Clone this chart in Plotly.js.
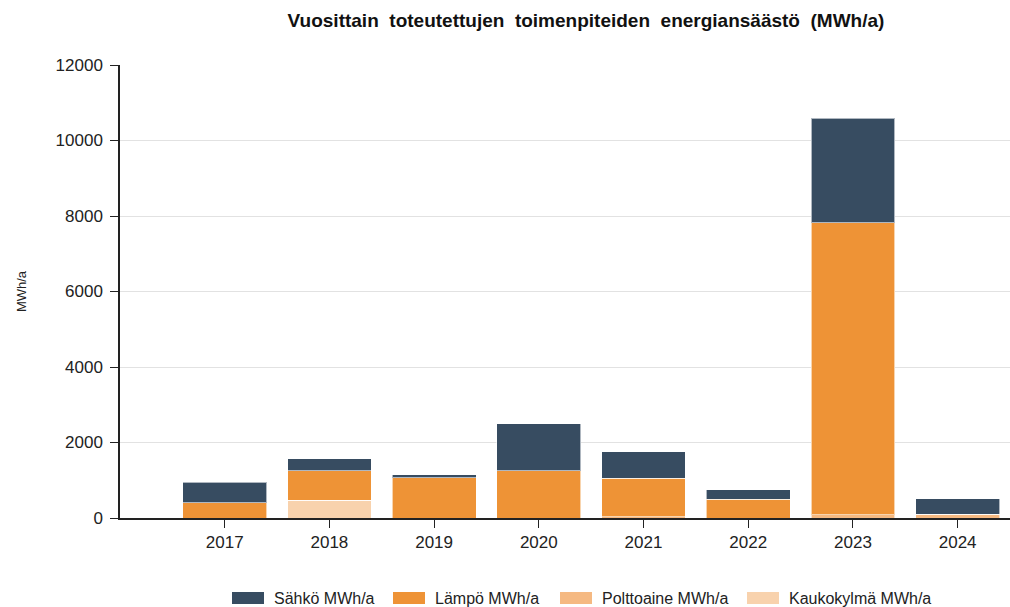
<!DOCTYPE html>
<html>
<head>
<meta charset="utf-8">
<script src="https://cdn.plot.ly/plotly-3.0.1.min.js"></script>
<style>html,body{margin:0;padding:0;background:#fff;}#chart{width:1010px;height:607px;}</style>
</head>
<body>
<div id="chart"></div>
<script>
const years = ['2017','2018','2019','2020','2021','2022','2023','2024'];
const sahko = [545, 319, 80, 1244, 700, 249, 2775, 415];
const lampo = [405, 786, 1070, 1256, 1022, 494, 7725, 0];
const polttoaine = [0, 0, 0, 0, 30, 0, 90, 100];
const kaukokylma = [0, 470, 0, 0, 0, 0, 0, 0];

// stacking order: bottom first
const seriesNames = ['Kaukokylmä MWh/a', 'Polttoaine MWh/a', 'Lämpö MWh/a', 'Sähkö MWh/a'];
const seriesValues = [kaukokylma, polttoaine, lampo, sahko];
const seriesColors = ['#F8D2AD', '#F5B982', '#EE9336', '#374C61'];

const traces = seriesNames.map((n, i) => ({
  type: 'bar',
  name: n,
  x: years,
  y: seriesValues[i],
  marker: {color: seriesColors[i], line: {color: 'rgba(255,255,255,0.6)', width: 1}},
  hoverinfo: 'x+y+name',
  showlegend: false
}));

// plot-area geometry (pixels) used to place the custom legend
const M = {l: 120, r: 0, t: 65, b: 89};
const W = 1010, H = 607;
const pw = W - M.l - M.r, ph = H - M.t - M.b;
const px2x = p => (p - M.l) / pw;
const py2y = p => (H - M.b - p) / ph;

// legend in display order (top of stack first)
const legendOrder = [3, 2, 1, 0];
const legendSwatchLeft = [232, 393, 560, 747];
const swW = 32, swTop = 592, swBot = 604, textY = 598, textGap = 8;

const shapes = [];
const annotations = [];
legendOrder.forEach((si, k) => {
  const x0 = legendSwatchLeft[k];
  shapes.push({type: 'rect', xref: 'paper', yref: 'paper',
    x0: px2x(x0), x1: px2x(x0 + swW), y0: py2y(swBot), y1: py2y(swTop),
    fillcolor: seriesColors[si], line: {width: 0}});
  annotations.push({xref: 'paper', yref: 'paper', x: px2x(x0 + swW + textGap), y: py2y(textY),
    xanchor: 'left', yanchor: 'middle', showarrow: false, text: seriesNames[si],
    font: {size: 16, color: '#222'}});
});

const font = "'Liberation Sans', Arial, sans-serif";
const layout = {
  width: W, height: H,
  margin: {l: M.l, r: M.r, t: M.t, b: M.b, autoexpand: false},
  paper_bgcolor: '#fff', plot_bgcolor: '#fff',
  barmode: 'stack',
  bargap: 0.2,
  font: {family: font, size: 17, color: '#222'},
  title: {text: 'Vuosittain  toteutettujen  toimenpiteiden  energiansäästö  (MWh/a)',
          font: {family: font, size: 19, color: '#111', weight: 'bold'},
          x: 586 / W, xanchor: 'center', xref: 'container', y: 1 - 20 / H, yanchor: 'middle', yref: 'container'},
  xaxis: {type: 'category', range: [-1, 7.5], showline: true, linecolor: '#222', linewidth: 1.5,
          ticks: 'outside', ticklen: 8, tickcolor: '#222', showgrid: false, zeroline: false,
          ticklabelstandoff: 0,
          tickfont: {size: 17, color: '#222'}, fixedrange: true},
  yaxis: {range: [0, 12000], dtick: 2000, tickformat: 'd', showline: true, linecolor: '#222', linewidth: 1.5,
          ticks: 'outside', ticklen: 8, tickcolor: '#222', showgrid: true, gridcolor: '#e2e2e2',
          zeroline: false, tickfont: {size: 17, color: '#222'}, fixedrange: true,
          ticklabelstandoff: 4,
          title: {text: 'MWh/a', font: {size: 13, color: '#222'}, standoff: 26}},
  showlegend: false,
  shapes: shapes,
  annotations: annotations
};
Plotly.newPlot('chart', traces, layout, {displayModeBar: false});
</script>
</body>
</html>
